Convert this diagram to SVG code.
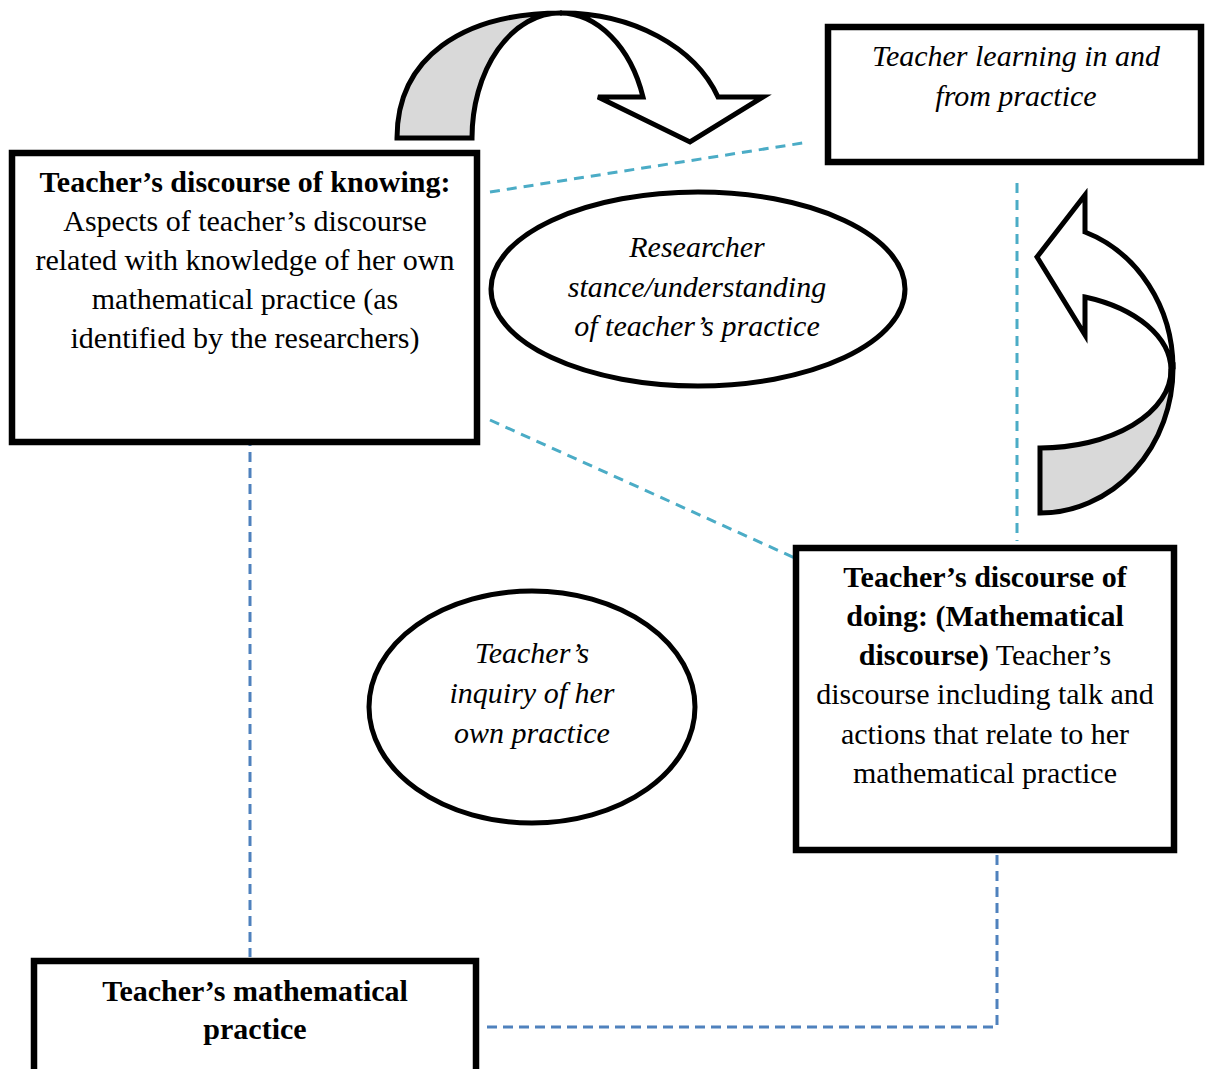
<svg xmlns="http://www.w3.org/2000/svg" width="1205" height="1069" viewBox="0 0 1205 1069">
<style>
.box{fill:#fff;stroke:#000;stroke-width:6.5}
.ell{fill:#fff;stroke:#000;stroke-width:5}
.arw{stroke:#000;stroke-width:5;stroke-linejoin:miter}
.t{font-family:"Liberation Serif","Times New Roman",serif;font-size:30px;fill:#000;text-anchor:middle}
.b{font-weight:bold}
.i{font-style:italic}
.dc{fill:none;stroke:#4BACC6;stroke-width:3;stroke-dasharray:10 7}
.db{fill:none;stroke:#4F81BD;stroke-width:3;stroke-dasharray:10 6}
</style>
<rect width="1205" height="1069" fill="#fff"/>
<g id="connectors">
<line class="dc" x1="490" y1="192" x2="809" y2="142"/>
<line class="dc" x1="490" y1="420" x2="797" y2="559"/>
<line class="dc" x1="1017" y1="183" x2="1017" y2="541"/>
<line class="db" x1="250" y1="420" x2="250" y2="957"/>
<polyline class="db" points="487,1027 997,1027 997,853"/>
</g>
<g id="arrow-top">
<path class="arw" fill="#D9D9D9" d="M397,138 C397,58 462,13 562,13 L560,13 A88,125 0 0,0 472,138 Z"/>
<path class="arw" fill="#fff" d="M562,13 A165,125 0 0,1 718,97 L763,97 L690,142 L598,97 L643,97 A88,125 0 0,0 560,13 Z"/>
</g>
<g id="arrow-right">
<path class="arw" fill="#D9D9D9" d="M1040,513 A133,145 0 0,0 1173,368 L1171,370 A131,78 0 0,1 1040,448 Z"/>
<path class="arw" fill="#fff" d="M1173,368 A133,145 0 0,0 1085,232 L1085,195 L1037,257 L1085,335 L1085,297 A131,78 0 0,1 1171,370 Z"/>
</g>
<g id="node-knowing">
<rect class="box" x="12" y="153" width="465" height="289"/>
<text class="t b" x="245" y="192">Teacher’s discourse of knowing:</text>
<text class="t" x="245" y="231">Aspects of teacher’s discourse</text>
<text class="t" x="245" y="270">related with knowledge of her own</text>
<text class="t" x="245" y="309">mathematical practice (as</text>
<text class="t" x="245" y="348">identified by the researchers)</text>
</g>
<g id="node-learning">
<rect class="box" x="828" y="27" width="373" height="135"/>
<text class="t i" x="1016" y="66">Teacher learning in and</text>
<text class="t i" x="1016" y="106">from practice</text>
</g>
<g id="node-researcher">
<ellipse class="ell" cx="698" cy="289" rx="207" ry="97"/>
<text class="t i" x="697" y="257">Researcher</text>
<text class="t i" x="697" y="297">stance/understanding</text>
<text class="t i" x="697" y="336">of teacher’s practice</text>
</g>
<g id="node-inquiry">
<ellipse class="ell" cx="532" cy="707" rx="163" ry="116"/>
<text class="t i" x="532" y="663">Teacher’s</text>
<text class="t i" x="532" y="703">inquiry of her</text>
<text class="t i" x="532" y="743">own practice</text>
</g>
<g id="node-doing">
<rect class="box" x="796" y="548" width="378" height="302"/>
<text class="t b" x="985" y="587">Teacher’s discourse of</text>
<text class="t b" x="985" y="626">doing: (Mathematical</text>
<text class="t" x="985" y="665"><tspan class="b">discourse)</tspan> Teacher’s</text>
<text class="t" x="985" y="704">discourse including talk and</text>
<text class="t" x="985" y="744">actions that relate to her</text>
<text class="t" x="985" y="783">mathematical practice</text>
</g>
<g id="node-practice">
<rect class="box" x="34" y="961" width="442" height="150"/>
<text class="t b" x="255" y="1001">Teacher’s mathematical</text>
<text class="t b" x="255" y="1039">practice</text>
</g>
</svg>
